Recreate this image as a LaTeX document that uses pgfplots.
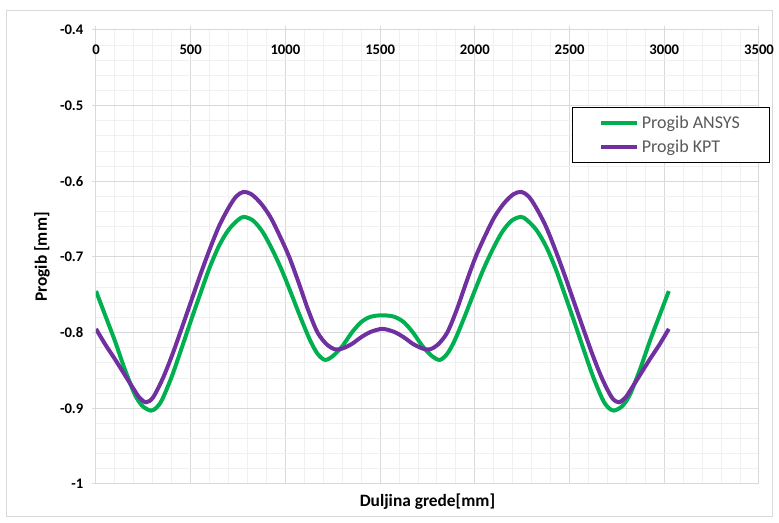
\documentclass[border=0pt]{standalone}
\usepackage{fontspec}
\setmainfont{Carlito}
\usepackage{pgfplots}
\pgfplotsset{compat=1.18}
\definecolor{ansys}{HTML}{00B050}
\definecolor{kpt}{HTML}{7030A0}
\definecolor{majgrid}{HTML}{D9D9D9}
\definecolor{mingrid}{HTML}{F0F0F0}
\definecolor{legtext}{HTML}{595959}

\begin{document}
\begin{tikzpicture}
% chart area frame and page size
\useasboundingbox (-72pt,-29.25pt) rectangle (512.25pt,363pt);
\draw[majgrid, line width=0.75pt] (-66.75pt,-24.75pt) rectangle (507pt,354.75pt);
\begin{axis}[
    name=main,
    scale only axis,
    width=497.25pt, height=340.5pt,
    xmin=0, xmax=3500, ymin=-1, ymax=-0.4,
    xtick distance=500, ytick distance=0.1,
    minor x tick num=4, minor y tick num=4,
    grid=both,
    major grid style={majgrid, line width=0.75pt},
    minor grid style={mingrid, line width=0.75pt},
    axis line style={majgrid, line width=0.75pt},
    tick align=outside, major tick length=3pt, minor tick length=0pt,
    tick style={majgrid, line width=0.75pt},
    xtick pos=right, ytick pos=left,
    xticklabel pos=right,
    /pgf/number format/assume math mode=true,
    /pgf/number format/1000 sep={},
    ticklabel style={font=\bfseries\fontsize{11}{13}\selectfont, text=black},
    xticklabel style={anchor=north, yshift=-11pt},
    yticklabel style={/pgf/number format/fixed, /pgf/number format/precision=1, xshift=-3pt},
    xlabel={Duljina grede[mm]},
    ylabel={Progib [mm]},
    label style={font=\bfseries\fontsize{13}{15}\selectfont},
    xlabel style={at={(axis description cs:0.5,0)}, anchor=north, yshift=-4pt},
    ylabel style={at={(axis description cs:-0.0815,0.5)}, anchor=center},
    legend style={at={(0.718,0.830)}, anchor=north west, draw=black,
      line width=0.75pt, inner xsep=20pt, inner ysep=4pt, row sep=3pt,
      font=\fontsize{13.5}{16}\selectfont, text=legtext},
    legend cell align=left,
    legend image code/.code={\draw[#1] (0pt,0pt) -- (27pt,0pt);},
  ]
\addplot[ansys, line width=3pt, smooth] coordinates {
  (0,-0.745) (50,-0.778) (100,-0.811) (150,-0.847) (200,-0.879)
  (229,-0.892) (255,-0.899) (291,-0.903) (320,-0.899) (350,-0.888)
  (400,-0.858) (450,-0.822) (500,-0.785) (550,-0.749) (600,-0.714)
  (650,-0.685) (700,-0.664) (750,-0.651) (781,-0.647) (830,-0.652)
  (880,-0.667) (930,-0.690) (980,-0.717) (1030,-0.748) (1080,-0.780)
  (1130,-0.810) (1170,-0.828) (1209,-0.836) (1250,-0.831) (1300,-0.818)
  (1350,-0.800) (1400,-0.786) (1450,-0.779) (1512,-0.777)
  (1574,-0.779) (1624,-0.786) (1674,-0.800) (1724,-0.818) (1774,-0.831)
  (1815,-0.836) (1854,-0.828) (1894,-0.810) (1944,-0.780) (1994,-0.748)
  (2044,-0.717) (2094,-0.690) (2144,-0.667) (2194,-0.652) (2243,-0.647)
  (2274,-0.651) (2324,-0.664) (2374,-0.685) (2424,-0.714) (2474,-0.749)
  (2524,-0.785) (2574,-0.822) (2624,-0.858) (2674,-0.888) (2704,-0.899)
  (2733,-0.903) (2769,-0.899) (2795,-0.892) (2824,-0.879) (2874,-0.847)
  (2924,-0.811) (2974,-0.778) (3024,-0.745)
};
\addlegendentry{Progib ANSYS}
\addplot[kpt, line width=3pt, smooth] coordinates {
  (0,-0.795) (50,-0.816) (100,-0.835) (150,-0.855) (200,-0.875)
  (230,-0.886) (264,-0.892) (300,-0.886) (350,-0.862) (400,-0.831)
  (450,-0.796) (500,-0.760) (550,-0.724) (600,-0.690) (650,-0.659)
  (700,-0.635) (740,-0.620) (778,-0.614) (820,-0.617) (870,-0.629)
  (920,-0.647) (970,-0.672) (1020,-0.700) (1070,-0.734) (1120,-0.770)
  (1170,-0.800) (1220,-0.816) (1262,-0.822) (1300,-0.821) (1350,-0.815)
  (1400,-0.806) (1450,-0.799) (1512,-0.795)
  (1574,-0.799) (1624,-0.806) (1674,-0.815) (1724,-0.821) (1762,-0.822)
  (1804,-0.816) (1854,-0.800) (1904,-0.770) (1954,-0.734) (2004,-0.700)
  (2054,-0.672) (2104,-0.647) (2154,-0.629) (2204,-0.617) (2246,-0.614)
  (2284,-0.620) (2324,-0.635) (2374,-0.659) (2424,-0.690) (2474,-0.724)
  (2524,-0.760) (2574,-0.796) (2624,-0.831) (2674,-0.862) (2724,-0.886)
  (2760,-0.892) (2794,-0.886) (2824,-0.875) (2874,-0.855) (2924,-0.835)
  (2974,-0.816) (3024,-0.795)
};
\addlegendentry{Progib KPT}
\end{axis}
\end{tikzpicture}
\end{document}
